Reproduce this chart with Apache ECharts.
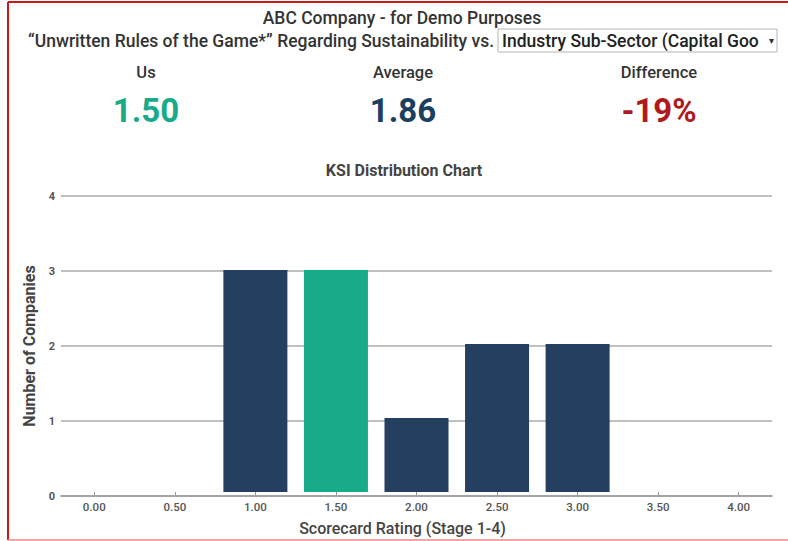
<!DOCTYPE html>
<html>
<head>
<meta charset="utf-8">
<title>KSI Distribution Chart</title>
<script src="https://cdn.jsdelivr.net/npm/echarts@6/dist/echarts.min.js"></script>
<style>
  html, body { margin: 0; padding: 0; background: #fff; }
  #chart { width: 788px; height: 541px; }
</style>
</head>
<body>
<div id="chart"></div>
<script>
// Scorecard rating buckets and how many companies fall in each
const categories = ['0.00', '0.50', '1.00', '1.50', '2.00', '2.50', '3.00', '3.50', '4.00'];
const companyCounts = [0, 0, 3, 3, 1, 2, 2, 0, 0];
const yTicks = [0, 1, 2, 3, 4];

// Headline scores
const usScore = 1.50;
const averageScore = 1.86;
const usBucket = '1.50';

const titleText = 'ABC Company - for Demo Purposes';
const subtitleText = '\u201CUnwritten Rules of the Game*\u201D Regarding Sustainability vs.';
const selectorText = 'Industry Sub-Sector (Capital Goo';

const NAVY = '#243f5f';
const TEAL = '#17ab8a';
const FONT = 'Roboto, "Noto Sans", sans-serif';

const diffPct = Math.round((usScore - averageScore) / averageScore * 100);

const chart = echarts.init(document.getElementById('chart'), null, { renderer: 'svg' });

const barData = companyCounts.map((v, i) => ({
  value: v,
  itemStyle: { color: categories[i] === usBucket ? TEAL : NAVY }
}));

function label(x, y, text, size, color, weight, align) {
  return {
    type: 'text', x: x, y: y, silent: true,
    style: {
      text: text, fill: color, fontSize: size, fontWeight: weight || 'normal',
      fontFamily: FONT, align: align || 'center', verticalAlign: 'middle'
    }
  };
}

chart.setOption({
  animation: false,
  textStyle: { fontFamily: FONT },
  grid: [
    // bars
    { left: 54, right: 9, top: 196, bottom: 45 },
    // gridlines and value labels
    { left: 61, right: 16, top: 196, bottom: 45 }
  ],
  xAxis: [
    {
      type: 'category', gridIndex: 0, data: categories,
      axisLine: { show: false },
      axisTick: { show: true, alignWithLabel: true, length: 3, lineStyle: { color: '#999' } },
      axisLabel: { color: '#555', fontSize: 11.5, fontWeight: 500, margin: 9 },
      name: 'Scorecard Rating (Stage 1-4)', nameLocation: 'middle', nameGap: 28,
      nameTextStyle: { color: '#444', fontSize: 16, fontWeight: 500, fontFamily: FONT, padding: [0, 28, 0, 0] }
    },
    {
      type: 'value', gridIndex: 1, min: 0, max: 1,
      axisLine: { show: true, lineStyle: { color: '#9a9a9a', width: 1.5 } },
      axisTick: { show: false }, axisLabel: { show: false }, splitLine: { show: false }
    }
  ],
  yAxis: [
    {
      type: 'value', gridIndex: 0, min: 0, max: 4, interval: 1,
      axisLine: { show: false }, axisTick: { show: false },
      axisLabel: { show: false }, splitLine: { show: false }
    },
    {
      type: 'value', gridIndex: 1, min: yTicks[0], max: yTicks[yTicks.length - 1], interval: 1,
      axisLine: { show: false }, axisTick: { show: false },
      axisLabel: { color: '#555', fontSize: 11, fontWeight: 'bold', margin: 6 },
      splitLine: { lineStyle: { color: '#c0c0c0', width: 1.8 } },
      name: 'Number of Companies', nameLocation: 'middle', nameGap: 24, nameRotate: 90,
      nameTextStyle: { color: '#444', fontSize: 16, fontWeight: 'bold', fontFamily: FONT }
    }
  ],
  series: [{
    type: 'bar', xAxisIndex: 0, yAxisIndex: 0,
    data: barData, barWidth: 64
  }],
  graphic: [
    // frame
    { type: 'line', silent: true, shape: { x1: 8, y1: 2, x2: 788, y2: 2 }, style: { stroke: '#cc1a1a', lineWidth: 2 } },
    { type: 'line', silent: true, shape: { x1: 8, y1: 2, x2: 8, y2: 540 }, style: { stroke: '#cc1a1a', lineWidth: 2 } },
    { type: 'line', silent: true, shape: { x1: 8, y1: 540, x2: 788, y2: 540 }, style: { stroke: '#ee8a8a', lineWidth: 1.5 } },
    // headings
    label(402, 18, titleText, 17.5, '#333', 500),
    label(494, 41, subtitleText, 17.5, '#333', 500, 'right'),
    // sub-sector selector
    { type: 'rect', silent: true, shape: { x: 498, y: 29, width: 279, height: 23 },
      style: { fill: '#fff', stroke: '#b5b5b5', lineWidth: 1 } },
    label(502, 41, selectorText, 17.5, '#222', 500, 'left'),
    label(771, 40, '\u25BE', 10, '#333'),
    // score headline
    label(146, 72, 'Us', 16.5, '#333', 500),
    label(403, 72, 'Average', 16.5, '#333', 500),
    label(659, 72, 'Difference', 16.5, '#333', 500),
    label(146, 110, usScore.toFixed(2), 33, TEAL, 'bold'),
    label(403, 110, averageScore.toFixed(2), 33, '#1b3f60', 'bold'),
    label(659, 110, diffPct + '%', 33, '#b0191e', 'bold'),
    // chart heading
    label(404, 170, 'KSI Distribution Chart', 16, '#444', 'bold')
  ]
});
</script>
</body>
</html>
